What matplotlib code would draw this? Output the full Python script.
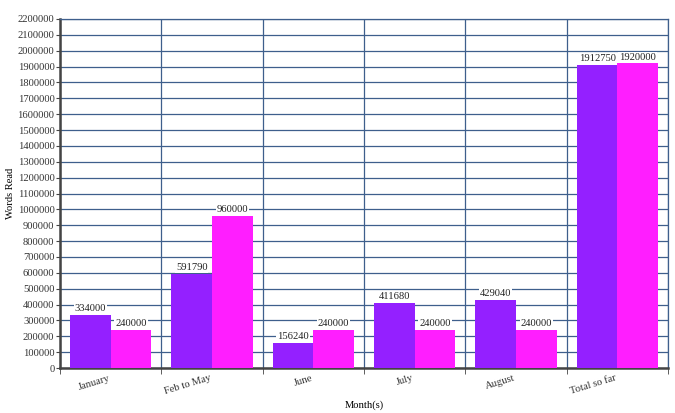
import matplotlib
matplotlib.use("Agg")
import matplotlib.pyplot as plt
import numpy as np

# data
months = ["January", "Feb to May", "June", "July", "August", "Total so far"]
actual = [334000, 591790, 156240, 411680, 429040, 1912750]
target = [240000, 960000, 240000, 240000, 240000, 1920000]

plt.rcParams['font.family'] = ['Liberation Serif', 'DejaVu Serif']
fs = 7.6

fig = plt.figure(figsize=(6.75, 4.13), dpi=100)
ax = fig.add_axes([60/675, 1-368/413, 608/675, 349/413])

x = np.arange(len(months))
w = 0.4
b1 = ax.bar(x - w/2, actual, w, color="#9420ff", zorder=3)
b2 = ax.bar(x + w/2, target, w, color="#ff1eff", zorder=3)

for bars in (b1, b2):
    for r in bars:
        v = r.get_height()
        ax.text(r.get_x() + r.get_width()/2, v + 12000, str(int(v)),
                ha="center", va="bottom", fontsize=fs, color="#222222",
                bbox=dict(facecolor="white", edgecolor="none", pad=0.6), zorder=4)

ax.set_xlim(-0.5, len(months) - 0.5)
ax.set_ylim(0, 2200000)
ax.set_yticks(np.arange(0, 2200001, 100000))
ax.set_yticklabels([str(v) for v in range(0, 2200001, 100000)], fontsize=fs, color="#333333")

ax.set_xticks(x)
ax.set_xticklabels(months, rotation=17, ha="right", fontsize=fs, color="#333333")
ax.set_xticks(np.arange(len(months) + 1) - 0.5, minor=True)
ax.tick_params(axis="x", which="major", length=0, pad=4)
ax.tick_params(axis="x", which="minor", length=4, color="#444444")
ax.tick_params(axis="y", length=3, color="#444444", pad=1)

# grid
ax.grid(axis="y", which="major", color="#3e5f8c", linewidth=0.9, zorder=0)
ax.grid(axis="x", which="minor", color="#3e5f8c", linewidth=0.9, zorder=0)

for s in ("top", "right"):
    ax.spines[s].set_color("#3e5f8c")
    ax.spines[s].set_linewidth(0.9)
for s in ("left", "bottom"):
    ax.spines[s].set_color("#444444")
    ax.spines[s].set_linewidth(1.8)

ax.set_ylabel("Words Read", fontsize=fs)
ax.yaxis.set_label_coords(-0.074, 0.5)
ax.set_xlabel("Month(s)", fontsize=fs, labelpad=3)

fig.savefig("out.png", dpi=100)
